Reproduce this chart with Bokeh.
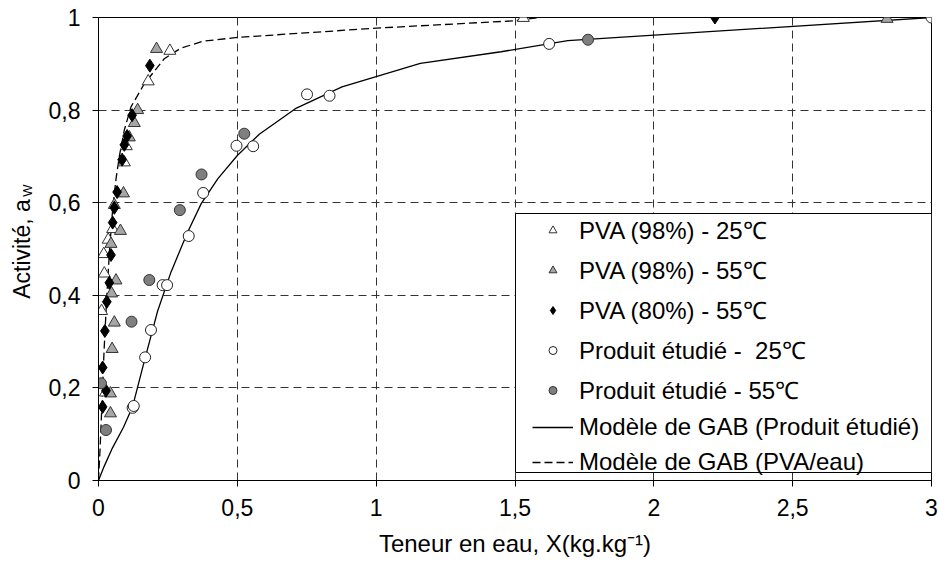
from bokeh.plotting import figure
from bokeh.models import (Range1d, FixedTicker, Legend, LegendItem, LinearAxis,
                          BoxAnnotation)
from bokeh.embed import file_html
from bokeh.resources import INLINE

# ---------------- data ----------------
pva98_25_x = [0.257, 0.179, 0.100, 0.093, 0.051, 0.035, 0.019, 0.021, 0.011, 0.025, 1.53]
pva98_25_y = [0.928, 0.862, 0.722, 0.687, 0.543, 0.520, 0.489, 0.447, 0.366, 0.190, 0.999]

pva98_55_x = [0.209, 0.141, 0.129, 0.111, 0.090, 0.057, 0.079, 0.045, 0.063, 0.047, 0.057, 0.049, 0.043, 0.043, 2.84]
pva98_55_y = [0.932, 0.800, 0.772, 0.741, 0.620, 0.595, 0.539, 0.511, 0.432, 0.404, 0.341, 0.284, 0.188, 0.145, 0.997]

pva80_55_x = [0.185, 0.121, 0.103, 0.093, 0.085, 0.067, 0.057, 0.051, 0.045, 0.039, 0.030, 0.023, 0.015, 0.027, 0.015, 2.22]
pva80_55_y = [0.896, 0.789, 0.744, 0.725, 0.693, 0.623, 0.589, 0.557, 0.487, 0.427, 0.386, 0.323, 0.244, 0.194, 0.159, 1.000]

prod25_x = [0.123, 0.127, 0.168, 0.189, 0.231, 0.247, 0.325, 0.377, 0.497, 0.557, 0.751, 0.832, 1.623, 3.0]
prod25_y = [0.157, 0.161, 0.266, 0.325, 0.422, 0.422, 0.528, 0.621, 0.723, 0.722, 0.834, 0.831, 0.943, 1.0]

prod55_x = [0.009, 0.027, 0.119, 0.183, 0.293, 0.371, 0.525, 1.763]
prod55_y = [0.210, 0.109, 0.343, 0.433, 0.584, 0.661, 0.749, 0.952]

gab_prod_x = [0, 0.02, 0.05, 0.09, 0.123, 0.165, 0.213, 0.261, 0.32, 0.37, 0.43, 0.50, 0.579, 0.709, 0.877, 1.159, 1.45, 1.69, 3.0]
gab_prod_y = [0, 0.03, 0.07, 0.115, 0.16, 0.258, 0.366, 0.45, 0.535, 0.598, 0.652, 0.702, 0.748, 0.803, 0.85, 0.901, 0.926, 0.95, 1.0]

gab_pva_x = [0, 0.005, 0.010, 0.015, 0.020, 0.030, 0.040, 0.051, 0.063, 0.075, 0.093, 0.117, 0.165, 0.237, 0.297, 0.379, 0.501, 1.0, 1.5, 1.59]
gab_pva_y = [0, 0.06, 0.13, 0.20, 0.28, 0.40, 0.50, 0.586, 0.651, 0.700, 0.757, 0.807, 0.857, 0.911, 0.934, 0.949, 0.957, 0.977, 0.993, 1.0]

x_ticks = [0, 0.5, 1, 1.5, 2, 2.5, 3]
x_tick_labels = ["0", "0,5", "1", "1,5", "2", "2,5", "3"]
y_ticks = [0, 0.2, 0.4, 0.6, 0.8, 1]
y_tick_labels = ["0", "0,2", "0,4", "0,6", "0,8", "1"]

legend_labels = ["PVA (98%) - 25\u2103", "PVA (98%) - 55\u2103", "PVA (80%) - 55\u2103",
                 "Produit étudié -  25\u2103", "Produit étudié - 55\u2103",
                 "Modèle de GAB (Produit étudié)", "Modèle de GAB (PVA/eau)"]

y_title = "Activité, a"
y_title_sub = "W"
x_title = "Teneur en eau, X(kg.kg\u207b\u00b9)"

FONT = "Liberation Sans"

# ---------------- figure ----------------
p = figure(width=939, height=568, x_range=Range1d(0, 3), y_range=Range1d(0, 1),
           output_backend="svg", toolbar_location=None,
           min_border_left=98, min_border_right=8, min_border_top=17, min_border_bottom=88)
p.background_fill_color = "white"
p.border_fill_color = "white"
p.outline_line_color = "black"
p.outline_line_width = 1

for ax, ticks, labels in ((p.xaxis[0], x_ticks, x_tick_labels), (p.yaxis[0], y_ticks, y_tick_labels)):
    ax.ticker = FixedTicker(ticks=ticks)
    ax.major_label_overrides = {t: l for t, l in zip(ticks, labels)}
    ax.minor_tick_line_color = None
    ax.major_tick_out = 6
    ax.major_tick_in = 0
    ax.major_tick_line_color = "black"
    ax.axis_line_color = "black"
    ax.major_label_text_font = FONT
    ax.major_label_text_font_size = "23px"
    ax.major_label_text_color = "black"
    ax.axis_label_text_font = FONT
    ax.axis_label_text_font_style = "normal"
    ax.axis_label_text_color = "black"
p.yaxis[0].major_label_standoff = 12
p.xaxis[0].major_label_standoff = 12

p.yaxis[0].axis_label = y_title
p.yaxis[0].axis_label_text_font_size = "23px"
p.yaxis[0].axis_label_standoff = 11

p.xaxis[0].axis_label = x_title
p.xaxis[0].axis_label_text_font_size = "24px"
p.xaxis[0].axis_label_standoff = 11

# subscript "W": an outer, tick-less axis pulled back over the title; em spaces move it
# along the axis so that it sits right after "a"
sub_axis = LinearAxis(ticker=FixedTicker(ticks=[]), axis_line_color=None,
                      major_tick_line_color=None, minor_tick_line_color=None,
                      major_tick_out=0, major_tick_in=0, major_label_standoff=0,
                      axis_label="\u2003" * 9 + y_title_sub, axis_label_standoff=-29,
                      axis_label_text_font=FONT, axis_label_text_font_size="13px",
                      axis_label_text_font_style="normal", axis_label_text_color="black")
p.add_layout(sub_axis, "left")

p.xgrid.ticker = FixedTicker(ticks=x_ticks)
p.ygrid.ticker = FixedTicker(ticks=y_ticks)
for g in (p.xgrid[0], p.ygrid[0]):
    g.grid_line_color = "#333333"
    g.grid_line_dash = "8 5"
    g.grid_line_width = 1

# curves
r_gab_prod = p.line(gab_prod_x, gab_prod_y, line_color="black", line_width=1.3)
r_gab_pva = p.line(gab_pva_x, gab_pva_y, line_color="black", line_width=1.3, line_dash="8 4")

# markers
r1 = p.scatter(pva98_25_x, pva98_25_y, marker="triangle", size=12, fill_color="white",
               line_color="#333333", line_width=1)
r2 = p.scatter(pva98_55_x, pva98_55_y, marker="triangle", size=12, fill_color="#a6a6a6",
               line_color="#333333", line_width=1)
r3 = p.scatter(pva80_55_x, pva80_55_y, marker="diamond", size=13, fill_color="black",
               line_color="black", line_width=1)
r4 = p.scatter(prod25_x, prod25_y, marker="circle", size=11, fill_color="white",
               line_color="#222222", line_width=1)
r5 = p.scatter(prod55_x, prod55_y, marker="circle", size=11, fill_color="#7f7f7f",
               line_color="#333333", line_width=1)

# legend box
box = BoxAnnotation(left=417, right=833, top=267, bottom=8,
                    left_units="screen", right_units="screen",
                    top_units="screen", bottom_units="screen",
                    fill_color="white", fill_alpha=1, line_color="black", line_width=1,
                    line_alpha=1)
p.add_layout(box)

renderers = [r1, r2, r3, r4, r5, r_gab_prod, r_gab_pva]
legend = Legend(items=[LegendItem(label=l, renderers=[r]) for l, r in zip(legend_labels, renderers)],
                location=(434, 4), orientation="vertical",
                border_line_alpha=0, background_fill_alpha=0,
                padding=0, margin=0, spacing=7,
                glyph_width=41, glyph_height=20, label_height=28,
                label_standoff=6,
                label_text_font=FONT, label_text_font_size="24px", label_text_color="black")
p.add_layout(legend)

open("out.html", "w").write(file_html(p, INLINE))
